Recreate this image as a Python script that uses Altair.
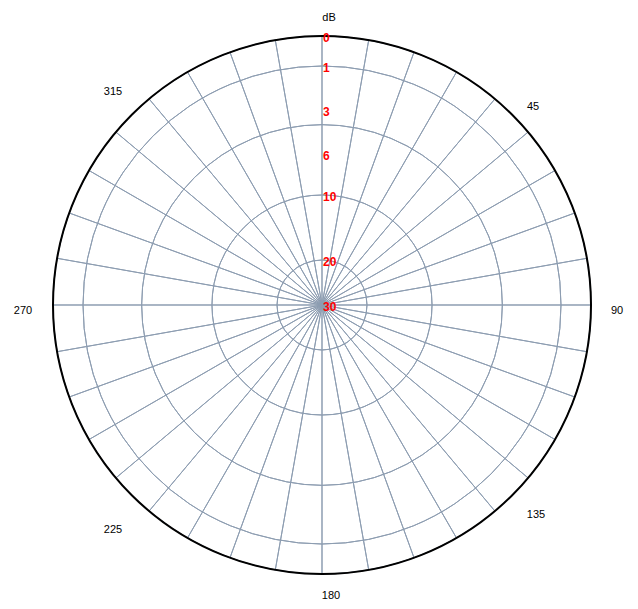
import math
import altair as alt
import pandas as pd

# ---- data ----
db_levels = [0, 1, 3, 6, 10, 20, 30]          # radial (dB) levels, 0 at the rim
spoke_angles = list(range(0, 360, 10))         # grid spokes every 10 degrees
angle_labels = [45, 90, 135, 180, 225, 270, 315]
unit_label = "dB"

# ---- styling ----
CX, CY = 314, 297                              # plot centre in plot coords
R_PX = [269, 239, 195, 151, 110, 45, 0]        # pixel radius of each dB level
GRID = "#8d9db1"
TWO_PI = 2 * math.pi

r_scale = alt.Scale(type="linear", domain=db_levels, range=R_PX, zero=False, nice=False)
t_scale = alt.Scale(domain=[0, 360], range=[0, TWO_PI], zero=False, nice=False)

spokes_df = pd.DataFrame({"a": spoke_angles})
rings_df = pd.DataFrame({"db": [d for d in db_levels if 0 < d < 30]})
rim_df = pd.DataFrame({"db": [db_levels[0]]})
db_df = pd.DataFrame({"db": db_levels, "txt": [str(d) for d in db_levels]})

spokes = (
    alt.Chart(spokes_df)
    .transform_calculate(a2="datum.a + 10")
    .mark_arc(filled=False, stroke=GRID, strokeWidth=1)
    .encode(
        theta=alt.Theta("a:Q", scale=t_scale, stack=False),
        theta2="a2:Q",
        radius=alt.value(R_PX[0]),
        x=alt.value(CX),
        y=alt.value(CY),
    )
)

rings = (
    alt.Chart(rings_df)
    .mark_arc(filled=False, stroke=GRID, strokeWidth=1, theta=0, theta2=TWO_PI)
    .encode(
        radius=alt.Radius("db:Q", scale=r_scale),
        x=alt.value(CX),
        y=alt.value(CY),
    )
)

rim = (
    alt.Chart(rim_df)
    .mark_arc(filled=False, stroke="black", strokeWidth=2, theta=0, theta2=TWO_PI)
    .encode(
        radius=alt.Radius("db:Q", scale=r_scale),
        x=alt.value(CX),
        y=alt.value(CY),
    )
)

db_text = (
    alt.Chart(db_df)
    .mark_text(align="left", baseline="middle", dx=1, dy=2, color="red",
               font="Liberation Sans", fontSize=12, fontWeight="bold")
    .encode(
        theta=alt.value(0),
        radius=alt.Radius("db:Q", scale=r_scale),
        text="txt:N",
        x=alt.value(CX),
        y=alt.value(CY),
    )
)

unit_text = (
    alt.Chart(pd.DataFrame({"u": [unit_label]}))
    .mark_text(align="center", baseline="middle", dx=7, color="black",
               font="Liberation Sans", fontSize=11)
    .encode(theta=alt.value(0), radius=alt.value(287), text="u:N",
            x=alt.value(CX), y=alt.value(CY))
)

# fine offsets for each angle label (pixels)
offsets = {45: (1, 12), 90: (-2, 6), 135: (4, 0), 180: (9, -6),
           225: (1, 15), 270: (-2, 6), 315: (1, -3)}
label_layers = []
for ang in angle_labels:
    ox, oy = offsets[ang]
    label_layers.append(
        alt.Chart(pd.DataFrame({"a": [ang], "txt": [str(ang)]}))
        .mark_text(align="center", baseline="middle", dx=ox, dy=oy, color="black",
                   font="Liberation Sans", fontSize=11)
        .encode(theta=alt.Theta("a:Q", scale=t_scale, stack=False),
                radius=alt.value(297), text="txt:N",
                x=alt.value(CX), y=alt.value(CY))
    )

chart = (
    alt.layer(spokes, rings, rim, db_text, unit_text, *label_layers)
    .properties(width=622, height=593, padding=0, autosize=alt.AutoSizeParams(type="none"))
    .configure_view(strokeWidth=0, stroke="transparent")
)

chart.save("out.html", embed_options={"renderer": "svg", "actions": False})
